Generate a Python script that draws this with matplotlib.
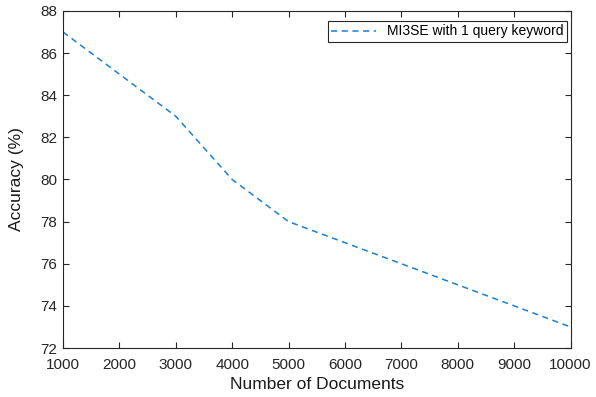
import numpy as np
import matplotlib.pyplot as plt

# data
docs = [1000, 2000, 3000, 4000, 5000, 6000, 7000, 8000, 9000, 10000]
accuracy = [87, 85, 83, 80, 78, 77, 76, 75, 74, 73]
x_ticks = [1000, 2000, 3000, 4000, 5000, 6000, 7000, 8000, 9000, 10000]
y_ticks = [72, 74, 76, 78, 80, 82, 84, 86, 88]

plt.rcParams['font.family'] = ['Liberation Sans', 'DejaVu Sans']

fig = plt.figure(figsize=(5.96, 3.97), dpi=100)
ax = fig.add_axes([0.1057, 0.1234, 0.8516, 0.849])

ax.plot(docs, accuracy, linestyle=(0, (4, 3)), color='#1a7fd4', linewidth=1.1,
        label='MI3SE with 1 query keyword')

ax.set_xlim(1000, 10000)
ax.set_ylim(72, 88)
ax.set_xticks(x_ticks)
ax.set_yticks(y_ticks)
ax.tick_params(direction='in', top=True, right=True, length=4, width=0.8,
               colors='#262626', labelsize=11)
ax.tick_params(axis='x', pad=7)
ax.tick_params(axis='y', pad=4)
for s in ax.spines.values():
    s.set_color('#262626')
    s.set_linewidth(0.8)

ax.set_xlabel('Number of Documents', fontsize=12.5, color='#1a1a1a', labelpad=4)
ax.set_ylabel('Accuracy (%)', fontsize=12.5, color='#1a1a1a', labelpad=12)

# legend box placed by pixel position in the axes
leg = ax.legend(loc='upper right', bbox_to_anchor=(567 / 596, 1 - 21 / 397),
                bbox_transform=fig.transFigure, fontsize=10, fancybox=False,
                framealpha=1, edgecolor='#262626', borderpad=0.25,
                handlelength=3.2, handletextpad=0.8, borderaxespad=0)
leg.get_frame().set_linewidth(0.8)

fig.savefig('out.png', dpi=100)
